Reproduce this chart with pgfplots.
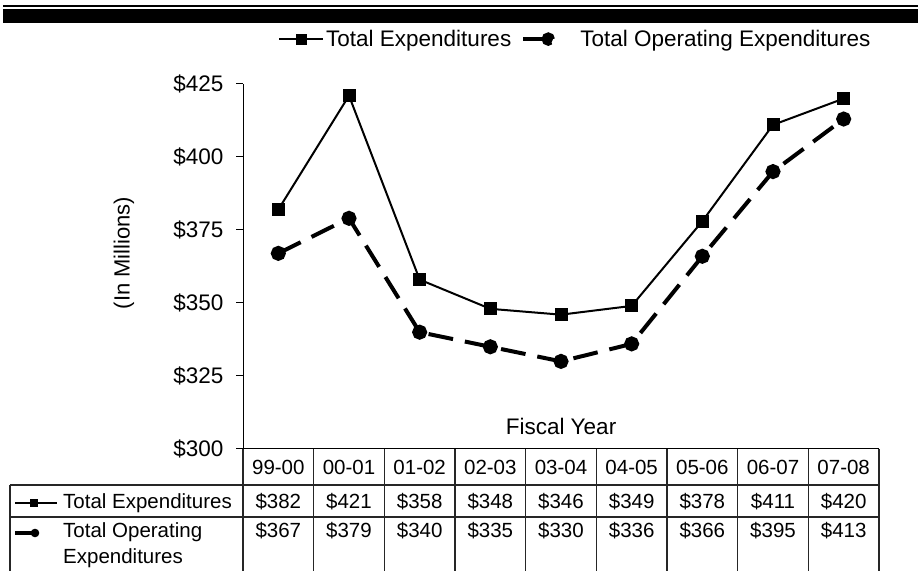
\documentclass[border=0pt]{standalone}
\usepackage{pgfplots}
\pgfplotsset{compat=1.18}
\usepackage{pgfplotstable}
\usepackage{fontspec}
\setmainfont{Liberation Sans}

\pgfplotstableread{
idx label te op
0 99-00 382 367
1 00-01 421 379
2 01-02 358 340
3 02-03 348 335
4 03-04 346 330
5 04-05 349 336
6 05-06 378 366
7 06-07 411 395
8 07-08 420 413
}\data

\begin{document}
\begin{tikzpicture}
\begin{scope}[x=1pt,y=1pt]
\useasboundingbox (0,0) rectangle (922,571);
% top rules
\fill[black] (3,548.3) rectangle (918,561.7);
\fill[black] (3,564) rectangle (918,566);
\end{scope}
\begin{axis}[
  at={(243pt,122pt)}, anchor=south west,
  width=636pt, height=365pt, scale only axis,
  xmin=-0.5, xmax=8.5, ymin=300, ymax=425,
  axis x line*=bottom, axis y line*=left,
  axis line style={line width=1pt, black},
  xtick=\empty,
  ytick={300,325,...,425},
  yticklabels={\$300,\$325,\$350,\$375,\$400,\$425},
  tick align=outside, major tick length=7pt,
  tick style={line width=1pt, black},
  y tick label style={font=\fontsize{22.5}{26}\selectfont, xshift=-9pt},
  clip=false,
  legend columns=2,
  legend style={draw=none, fill=none, inner sep=0pt,
    at={(0.055,1.123)}, anchor=west,
    font=\fontsize{22.5}{26}\selectfont,
    /tikz/every even column/.append style={column sep=8pt}},
]
\addplot[black, line width=2pt, mark=square*, mark size=5.5pt,
  legend image code/.code={
    \draw[black, line width=2pt, solid] (0pt,0pt) -- (44pt,0pt);
    \fill[black] (18pt,-4.5pt) rectangle (27pt,4.5pt);
  }] table[x=idx,y=te]{\data};
\addlegendentry{Total Expenditures}
\addplot[black, line width=4pt, dash pattern=on 25pt off 12pt,
  mark=*, mark size=5.5pt, mark options={solid},
  legend image code/.code={
    \draw[black, line width=4pt, solid] (0pt,0pt) -- (25pt,0pt);
    \fill[black] (25pt,0pt) circle (4.7pt);
    \path (53pt,0pt);
  }] table[x=idx,y=op]{\data};
\addlegendentry{Total Operating Expenditures}
\end{axis}
\begin{scope}[x=1pt,y=1pt]
% axis labels
\node[font=\fontsize{22.5}{26}\selectfont] at (561,145) {Fiscal Year};
\node[rotate=90, font=\fontsize{22}{26}\selectfont] at (124,318) {(In Millions)};
% data table grid
\begin{scope}[black!85, line width=1.2pt]
\draw (10,86) -- (879,86);
\draw (10,54) -- (879,54);
\draw (10,86) -- (10,0);
\foreach \k in {0,...,9} { \draw ({243+70.667*\k},122) -- ({243+70.667*\k},0); }
\end{scope}
\begin{scope}[font=\fontsize{20.5}{24}\selectfont]
\foreach \i in {0,...,8} {
  \pgfplotstablegetelem{\i}{label}\of\data
  \node[anchor=base, inner sep=0pt] at ({243+70.667*(\i+0.5)},96) {\pgfplotsretval};
  \pgfplotstablegetelem{\i}{te}\of\data
  \node[anchor=base, inner sep=0pt] at ({243+70.667*(\i+0.5)},62.5) {\$\pgfplotsretval};
  \pgfplotstablegetelem{\i}{op}\of\data
  \node[anchor=base, inner sep=0pt] at ({243+70.667*(\i+0.5)},33) {\$\pgfplotsretval};
}
\node[anchor=base west, inner sep=0pt] at (63,62.5) {Total Expenditures};
\node[anchor=base west, inner sep=0pt] at (63,33) {Total Operating};
\node[anchor=base west, inner sep=0pt] at (63,7) {Expenditures};
% row keys
\draw[line width=2pt] (15,68) -- (57,68);
\fill (30,64) rectangle (38,72);
\draw[line width=4pt] (15,38) -- (35,38);
\fill (35,38) circle (4.3pt);
\end{scope}
\end{scope}
\end{tikzpicture}
\end{document}
